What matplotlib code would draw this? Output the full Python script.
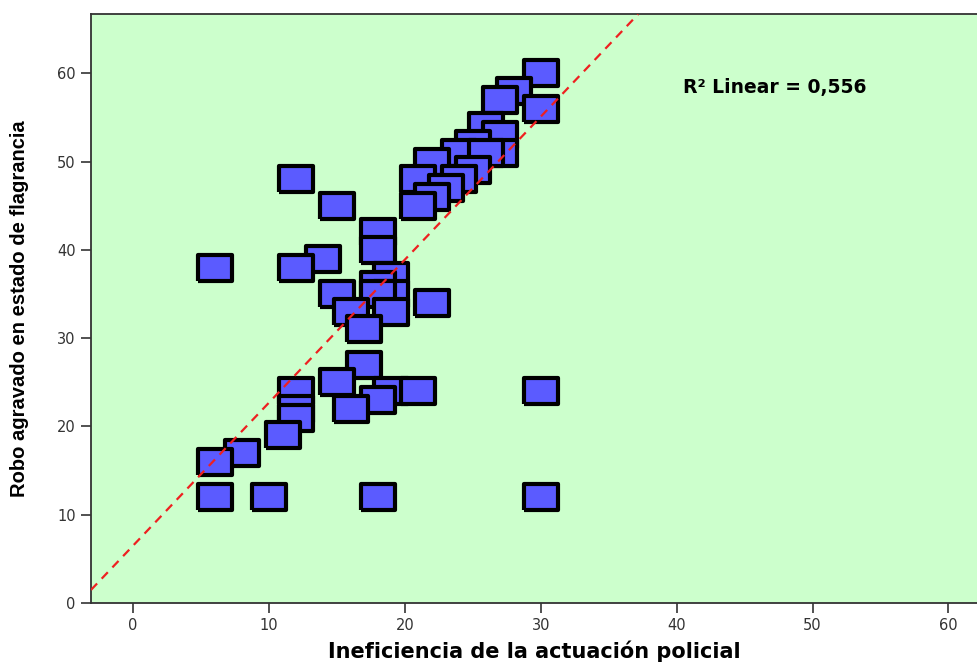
import matplotlib
matplotlib.use("Agg")
import matplotlib.pyplot as plt

# values
ineficiencia = [30, 28, 27, 30, 26, 27, 27, 25, 24, 26, 25, 22, 21, 24, 23, 22, 21,
                12, 15, 18, 18, 14, 6, 12, 19, 18, 19, 18, 15, 22, 19, 16, 17,
                17, 15, 12, 19, 21, 30, 18, 16, 12, 12, 11, 8, 6, 6, 10, 18, 30]
robo = [60, 58, 57, 56, 54, 53, 51, 52, 51, 51, 49, 50, 48, 48, 47, 46, 45,
        48, 45, 42, 40, 39, 38, 38, 37, 36, 35, 35, 35, 34, 33, 33, 31,
        27, 25, 24, 24, 24, 24, 23, 22, 22, 21, 19, 17, 16, 12, 12, 12, 12]

# fit line as drawn in the reference
fit_intercept = 6.5
fit_slope = 1.62
r2_label = "R² Linear = 0,556"

x_ticks = [0, 10, 20, 30, 40, 50, 60]
y_ticks = [0, 10, 20, 30, 40, 50, 60]

fig = plt.figure(figsize=(9.77, 6.63), dpi=100)
ax = fig.add_axes([0.0931, 0.0905, 0.9069, 0.888])
ax.set_facecolor("#ccffcc")

rect = [(-1, -0.76), (1, -0.76), (1, 0.76), (-1, 0.76), (-1, -0.76)]
ax.scatter(ineficiencia, robo, marker=rect, s=25**2, facecolor="#5b5bff",
           edgecolor="black", linewidth=3.0, zorder=3)

ax.axline((0, fit_intercept), slope=fit_slope, color="#ee2020", lw=1.6,
          linestyle=(0, (4, 3)), zorder=4)

ax.set_xlim(-3.1, 62.1)
ax.set_ylim(0, 66.7)
ax.set_xticks(x_ticks)
ax.set_yticks(y_ticks)
ax.tick_params(direction="out", length=7, width=1.2, color="#333333",
               labelcolor="#333333", labelsize=10.5, pad=4)
for side in ["left", "bottom", "top"]:
    ax.spines[side].set_color("#333333")
    ax.spines[side].set_linewidth(1.3)
ax.spines["right"].set_visible(False)

ax.text(0.668, 0.876, r2_label, transform=ax.transAxes, fontsize=13.5,
        fontweight="bold", ha="left", va="center")

ax.set_xlabel("Ineficiencia de la actuación policial", fontsize=15,
              fontweight="bold", labelpad=5)
ax.set_ylabel("Robo agravado en estado de flagrancia", fontsize=14.5,
              fontweight="bold", labelpad=20,
              family=["Liberation Sans", "DejaVu Sans"])

fig.savefig("out.png", dpi=100)
